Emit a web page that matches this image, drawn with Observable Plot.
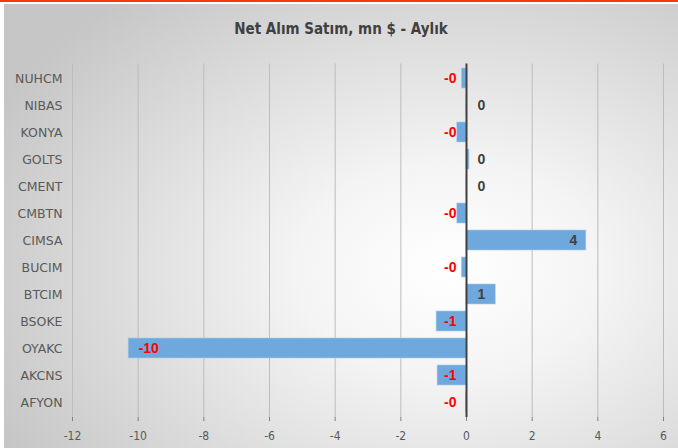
<!DOCTYPE html>
<html>
<head>
<meta charset="utf-8">
<script src="https://cdn.jsdelivr.net/npm/d3@7"></script>
<script src="https://cdn.jsdelivr.net/npm/@observablehq/plot@0.6"></script>
<style>
  html, body { margin: 0; padding: 0; background: #ffffff; width: 678px; height: 448px; overflow: hidden; }
  #topbar { position: absolute; left: 0; top: 0; width: 678px; height: 2px; background: #f03c0a; }
  #panel { position: absolute; left: 4px; top: 4px; width: 674px; height: 444px;
    background: radial-gradient(ellipse 75% 80% at 66% 60%, #ffffff 0%, #f4f4f4 30%, #c6c6c6 100%); }
  #title { position: absolute; left: 0; top: 16px; width: 674px; text-align: center;
    font-family: "DejaVu Sans Condensed", "DejaVu Sans", sans-serif; font-weight: bold; font-size: 15px; color: #404040; }
  #chart { position: absolute; left: 0; top: 40px; }
</style>
</head>
<body>
<div id="topbar"></div>
<div id="panel">
  <div id="title">Net Alım Satım, mn $ - Aylık</div>
  <div id="chart"></div>
</div>
<script>
const categories = ["NUHCM","NIBAS","KONYA","GOLTS","CMENT","CMBTN","CIMSA","BUCIM","BTCIM","BSOKE","OYAKC","AKCNS","AFYON"];
const values = [-0.14, 0.02, -0.28, 0.09, 0.02, -0.28, 3.65, -0.14, 0.89, -0.91, -10.29, -0.88, -0.01];
const xTicks = [-12, -10, -8, -6, -4, -2, 0, 2, 4, 6];

const data = categories.map((name, i) => ({name, value: values[i]}));
const labelOf = v => v < 0 ? "-" + Math.round(-v) : String(Math.round(v));

const red = "#ff0000", dark = "#404040";
const labelFont = {fontFamily: "'Liberation Sans', Arial, sans-serif", fontWeight: "bold", fontSize: 14};

const chart = Plot.plot({
  width: 674,
  height: 404,
  marginLeft: 68,
  marginRight: 15,
  marginTop: 19.5,
  marginBottom: 31,
  style: {background: "transparent", fontFamily: "'DejaVu Sans Condensed', 'DejaVu Sans', sans-serif", fontSize: "12px", color: "#595959"},
  x: {domain: [-12, 6]},
  y: {domain: categories, paddingInner: 0.27, paddingOuter: 0.135},
  marks: [
    Plot.ruleX(xTicks, {stroke: "#bdbdbd", strokeWidth: 1}),
    Plot.barX(data, {y: "name", x: "value", fill: "#6fa8dc", stroke: "#a9cbea", strokeWidth: 0.6}),
    Plot.ruleX([0], {stroke: "#404040", strokeWidth: 2}),
    Plot.axisX({ticks: xTicks, tickFormat: d => String(d), tickSize: 4, tickPadding: 10, stroke: "#7f7f7f", fill: "#595959", fontSize: 12, label: null}),
    Plot.axisY({tickSize: 0, tickPadding: 10, fill: "#595959", fontFamily: "'DejaVu Sans', sans-serif", fontSize: 12.5, label: null}),
    // small negatives: label left of the axis
    Plot.text(data.filter(d => d.value < 0 && d.value > -5), {y: "name", x: () => 0, text: d => labelOf(d.value), textAnchor: "end", dx: -10, fill: red, ...labelFont}),
    // large negative: label inside bar at its end
    Plot.text(data.filter(d => d.value <= -5), {y: "name", x: "value", text: d => labelOf(d.value), textAnchor: "start", dx: 10, fill: red, ...labelFont}),
    // large positive: label inside bar at its end
    Plot.text(data.filter(d => d.value >= 2), {y: "name", x: "value", text: d => labelOf(d.value), textAnchor: "end", dx: -9, fill: dark, ...labelFont}),
    // small positives: label right of the axis
    Plot.text(data.filter(d => d.value >= 0 && d.value < 2), {y: "name", x: () => 0, text: d => labelOf(d.value), textAnchor: "middle", dx: 15, fill: dark, ...labelFont})
  ]
});
document.getElementById("chart").appendChild(chart);
</script>
</body>
</html>
